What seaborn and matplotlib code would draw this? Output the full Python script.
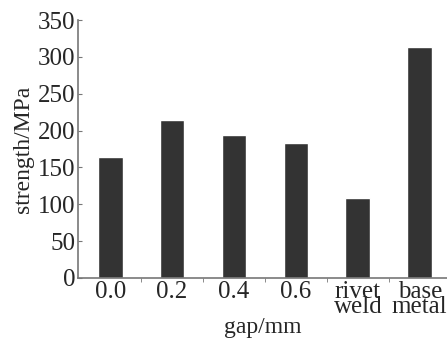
import matplotlib
matplotlib.use("Agg")
import matplotlib.pyplot as plt
import pandas as pd
import numpy as np
import seaborn as sns

# bar data
gaps = ["0.0", "0.2", "0.4", "0.6", "rivet\nweld", "base\nmetal"]
strength = [164, 214, 194, 183, 108, 314]

df = pd.DataFrame({"gap": gaps, "strength": strength})

sns.set_style("white")
plt.rcParams["font.family"] = ["Liberation Serif", "DejaVu Serif"]

fig = plt.figure(figsize=(4.47, 3.39), dpi=100)
ax = fig.add_axes([0.1745, 0.18, 0.8255, 0.761])

sns.barplot(x="gap", y="strength", data=df, color="#333333", width=0.4,
            saturation=1, ax=ax)

ax.set_ylim(0, 350)
ax.set_xlim(-0.52, 5.44)
ax.set_yticks(np.arange(0, 351, 50))
ax.set_xticks(np.arange(0.5, 5, 1), minor=True)
ax.tick_params(axis="y", direction="in", length=3, labelsize=18, pad=2,
               color="#777777", left=True)
ax.tick_params(axis="x", which="major", length=0, labelsize=18, pad=2)
ax.tick_params(axis="x", which="minor", direction="out", length=3,
               color="#777777", bottom=True)
for lbl in ax.get_xticklabels():
    lbl.set_linespacing(0.6)

ax.set_xlabel("gap/mm", fontsize=17, labelpad=-1)
ax.set_ylabel("strength/MPa", fontsize=17, labelpad=3)

sns.despine(ax=ax)
for s in ["left", "bottom"]:
    ax.spines[s].set_color("#777777")
    ax.spines[s].set_linewidth(1.2)

fig.savefig("out.png", dpi=100)
